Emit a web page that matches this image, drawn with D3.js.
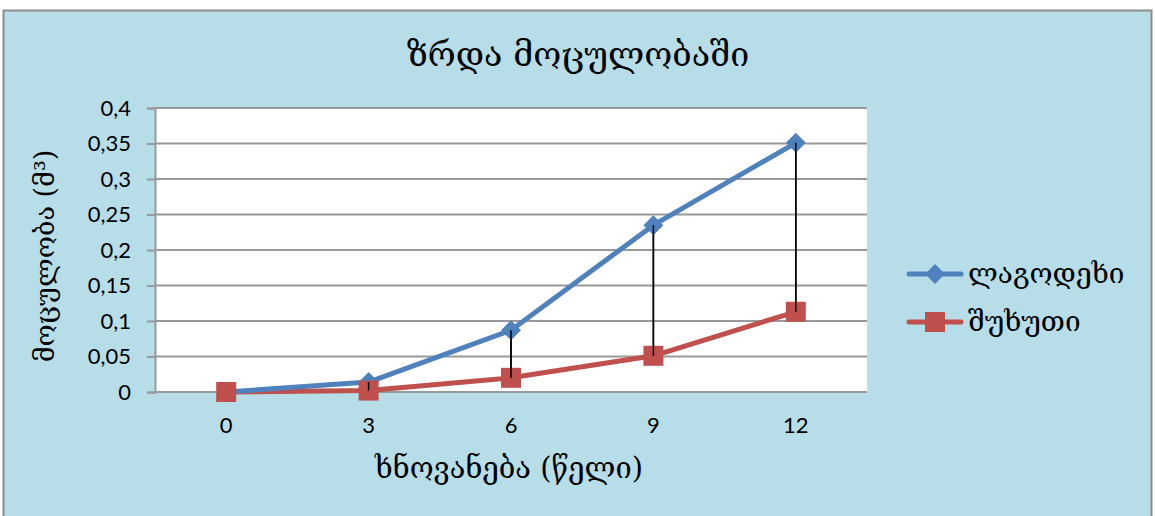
<!DOCTYPE html>
<html>
<head>
<meta charset="utf-8">
<script src="https://cdn.jsdelivr.net/npm/d3@7"></script>
<style>
  html, body { margin: 0; padding: 0; background: #ffffff; }
  svg { display: block; }
</style>
</head>
<body>
<svg id="chart" width="1155" height="516"></svg>
<script>
// Ages (years) and stand volume per series
const ages = [0, 3, 6, 9, 12];
const lagodekhi = [0, 0.014, 0.087, 0.235, 0.351];
const shukhuti = [0, 0.002, 0.020, 0.051, 0.113];
const yTicks = [0, 0.05, 0.1, 0.15, 0.2, 0.25, 0.3, 0.35, 0.4];
const seriesNames = ["ლაგოდეხი", "შუხუთი"];

const titleText = "ზრდა  მოცულობაში";
const xTitle = "ხნოვანება (წელი)";
const yTitle = "მოცულობა (მ³)";

const geoFont = "'DejaVu Serif', 'DejaVu Sans', serif";
const numFont = "Lato, 'Open Sans', sans-serif";

const svg = d3.select("#chart");

// Chart frame
svg.append("rect")
  .attr("x", 3.5).attr("y", 10.5)
  .attr("width", 1148).attr("height", 510)
  .attr("fill", "#b7dde8")
  .attr("stroke", "#8c8c8c").attr("stroke-width", 2);

const plot = { left: 155, right: 867, top: 108, bottom: 392 };

const x = d3.scaleBand().domain(ages).range([plot.left, plot.right]);
const y = d3.scaleLinear().domain([0, 0.4]).range([plot.bottom, plot.top]);
const cx = d => x(d) + x.bandwidth() / 2;

// Plot area
svg.append("rect")
  .attr("x", plot.left).attr("y", plot.top)
  .attr("width", plot.right - plot.left).attr("height", plot.bottom - plot.top)
  .attr("fill", "#ffffff");

// Gridlines
svg.append("g").selectAll("line").data(yTicks).join("line")
  .attr("x1", plot.left).attr("x2", plot.right)
  .attr("y1", d => y(d)).attr("y2", d => y(d))
  .attr("stroke", "#999999").attr("stroke-width", 2);

// Y axis
const fmt = d => String(d).replace(".", ",");
const yAxis = svg.append("g")
  .attr("transform", `translate(${plot.left},0)`)
  .call(d3.axisLeft(y).tickValues(yTicks).tickFormat(fmt).tickSize(8).tickPadding(16));
yAxis.select(".domain").attr("stroke", "#999999").attr("stroke-width", 2);
yAxis.selectAll(".tick line").attr("stroke", "#999999").attr("stroke-width", 2);
yAxis.selectAll("text")
  .attr("font-family", numFont).attr("font-size", 22).attr("fill", "#000");

// X axis (labels only)
const xAxis = svg.append("g")
  .attr("transform", `translate(0,${plot.bottom})`)
  .call(d3.axisBottom(x).tickSize(0).tickPadding(25));
xAxis.select(".domain").remove();
xAxis.selectAll("text")
  .attr("font-family", numFont).attr("font-size", 22).attr("fill", "#000");

// High-low connectors
svg.append("g").selectAll("line").data(ages).join("line")
  .attr("x1", d => cx(d)).attr("x2", d => cx(d))
  .attr("y1", (d, i) => y(lagodekhi[i])).attr("y2", (d, i) => y(shukhuti[i]))
  .attr("stroke", "#000").attr("stroke-width", 1.5);

const line = d3.line().x((d, i) => cx(ages[i])).y(d => y(d));

// Red series
svg.append("path").datum(shukhuti)
  .attr("d", line).attr("fill", "none")
  .attr("stroke", "#c0504d").attr("stroke-width", 5).attr("stroke-linejoin", "round");
// Blue series
svg.append("path").datum(lagodekhi)
  .attr("d", line).attr("fill", "none")
  .attr("stroke", "#4f81bd").attr("stroke-width", 5).attr("stroke-linejoin", "round");

// Markers
svg.append("g").selectAll("path").data(lagodekhi).join("path")
  .attr("d", d3.symbol().type(d3.symbolSquare).size(200))
  .attr("transform", (d, i) => `translate(${cx(ages[i])},${y(d)}) rotate(45)`)
  .attr("fill", "#4f81bd");
svg.append("g").selectAll("rect").data(shukhuti).join("rect")
  .attr("x", (d, i) => cx(ages[i]) - 10).attr("y", d => y(d) - 10)
  .attr("width", 20).attr("height", 20)
  .attr("fill", "#c0504d");

// Connectors drawn again on top of the markers
svg.append("g").selectAll("line").data(ages.slice(1)).join("line")
  .attr("x1", d => cx(d)).attr("x2", d => cx(d))
  .attr("y1", (d, i) => y(lagodekhi[i + 1])).attr("y2", (d, i) => y(shukhuti[i + 1]))
  .attr("stroke", "#000").attr("stroke-width", 1.5);

// Title
svg.append("text")
  .attr("x", 578).attr("y", 66).attr("text-anchor", "middle")
  .attr("font-family", geoFont).attr("font-size", 34).attr("fill", "#000")
  .text(titleText);

// Axis titles
svg.append("text")
  .attr("x", (plot.left + plot.right) / 2 - 2).attr("y", 478).attr("text-anchor", "middle")
  .attr("font-family", geoFont).attr("font-size", 29).attr("fill", "#000")
  .text(xTitle);
svg.append("text")
  .attr("transform", `translate(54,${(plot.top + plot.bottom) / 2 + 6}) rotate(-90)`)
  .attr("text-anchor", "middle")
  .attr("font-family", geoFont).attr("font-size", 27).attr("fill", "#000")
  .text(yTitle);

// Legend
const legend = svg.append("g");
const legY = [274, 322];
const colors = ["#4f81bd", "#c0504d"];
seriesNames.forEach((name, i) => {
  legend.append("line")
    .attr("x1", 909).attr("x2", 961).attr("y1", legY[i]).attr("y2", legY[i])
    .attr("stroke", colors[i]).attr("stroke-width", 5).attr("stroke-linecap", "round");
  if (i === 0) {
    legend.append("path")
      .attr("d", d3.symbol().type(d3.symbolSquare).size(200)())
      .attr("transform", `translate(935,${legY[i]}) rotate(45)`)
      .attr("fill", colors[i]);
  } else {
    legend.append("rect")
      .attr("x", 925).attr("y", legY[i] - 10).attr("width", 20).attr("height", 20)
      .attr("fill", colors[i]);
  }
  legend.append("text")
    .attr("x", 968).attr("y", legY[i] + 9)
    .attr("font-family", geoFont).attr("font-size", 28).attr("fill", "#000")
    .text(name);
});
</script>
</body>
</html>
